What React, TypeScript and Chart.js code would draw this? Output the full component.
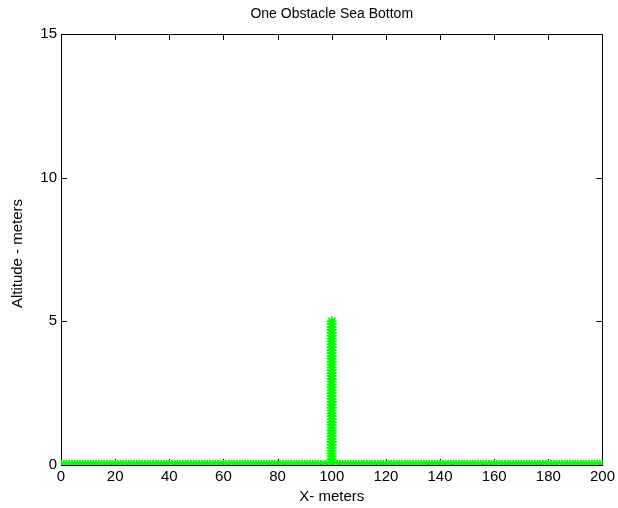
import React, { useEffect, useRef } from "react";
import { Chart, registerables } from "chart.js";
Chart.register(...registerables);

const titleText = "One Obstacle Sea Bottom";
const xLabel = "X- meters";
const yLabel = "Altitude - meters";
const xTicks = [0, 20, 40, 60, 80, 100, 120, 140, 160, 180, 200];
const yTicks = [0, 5, 10, 15];
// sea-bottom samples along x (altitude 0)
const groundX = [0,1,2,3,4,5,6,7,8,9,10,11,12,13,14,15,16,17,18,19,20,21,22,23,24,25,26,27,28,29,30,31,32,33,34,35,36,37,38,39,40,41,42,43,44,45,46,47,48,49,50,51,52,53,54,55,56,57,58,59,60,61,62,63,64,65,66,67,68,69,70,71,72,73,74,75,76,77,78,79,80,81,82,83,84,85,86,87,88,89,90,91,92,93,94,95,96,97,98,99,100,101,102,103,104,105,106,107,108,109,110,111,112,113,114,115,116,117,118,119,120,121,122,123,124,125,126,127,128,129,130,131,132,133,134,135,136,137,138,139,140,141,142,143,144,145,146,147,148,149,150,151,152,153,154,155,156,157,158,159,160,161,162,163,164,165,166,167,168,169,170,171,172,173,174,175,176,177,178,179,180,181,182,183,184,185,186,187,188,189,190,191,192,193,194,195,196,197,198,199,200];
// obstacle samples at x = 100
const obstacleX = 100;
const obstacleY = [0,0.1,0.2,0.3,0.4,0.5,0.6,0.7,0.8,0.9,1,1.1,1.2,1.3,1.4,1.5,1.6,1.7,1.8,1.9,2,2.1,2.2,2.3,2.4,2.5,2.6,2.7,2.8,2.9,3,3.1,3.2,3.3,3.4,3.5,3.6,3.7,3.8,3.9,4,4.1,4.2,4.3,4.4,4.5,4.6,4.7,4.8,4.9,5];

const FONT = "Arial, 'Liberation Sans', sans-serif";
const FS = 15;

export default function App() {
  const ref = useRef<HTMLCanvasElement>(null);
  useEffect(() => {
    document.body.style.margin = "0";
    const pts = [
      ...groundX.map((x) => ({ x, y: 0 })),
      ...obstacleY.map((y) => ({ x: obstacleX, y })),
    ];
    const frame = {
      id: "frame",
      beforeDatasetsDraw(c: any) {
        const { ctx, chartArea: a, scales } = c;
        ctx.save();
        ctx.strokeStyle = "#000";
        ctx.lineWidth = 1;
        ctx.beginPath();
        ctx.rect(Math.round(a.left) + 0.5, Math.round(a.top) + 0.5, Math.round(a.right - a.left), Math.round(a.bottom - a.top));
        ctx.stroke();
        const tl = 6;
        ctx.beginPath();
        for (const v of xTicks) {
          const px = Math.round(scales.x.getPixelForValue(v)) + 0.5;
          ctx.moveTo(px, a.bottom); ctx.lineTo(px, a.bottom - tl);
          ctx.moveTo(px, a.top); ctx.lineTo(px, a.top + tl);
        }
        for (const v of yTicks) {
          const py = Math.round(scales.y.getPixelForValue(v)) + 0.5;
          ctx.moveTo(a.left, py); ctx.lineTo(a.left + tl, py);
          ctx.moveTo(a.right, py); ctx.lineTo(a.right - tl, py);
        }
        ctx.stroke();
        ctx.restore();
      },
      afterDraw(c: any) {
        const { ctx, chartArea: a } = c;
        ctx.save();
        ctx.fillStyle = "#000";
        ctx.textAlign = "center";
        ctx.textBaseline = "middle";
        const cx = (a.left + a.right) / 2;
        ctx.font = `14px ${FONT}`;
        ctx.fillText(titleText, cx, 14);
        ctx.font = `${FS}px ${FONT}`;
        ctx.fillText(xLabel, cx, 497);
        ctx.translate(18, (a.top + a.bottom) / 2 + 4);
        ctx.rotate(-Math.PI / 2);
        ctx.fillText(yLabel, 0, 0);
        ctx.restore();
      },
    };
    const chart = new Chart(ref.current!, {
      type: "scatter",
      data: {
        datasets: [
          {
            data: pts,
            showLine: false,
            pointStyle: "star",
            pointRadius: 5,
            borderColor: "#00ff00",
            backgroundColor: "#00ff00",
            borderWidth: 1.8,
          },
        ],
      },
      options: {
        animation: false,
        responsive: false,
        devicePixelRatio: 1,
        layout: { padding: { left: 0, top: 34, right: 13, bottom: 0 } },
        plugins: { legend: { display: false }, tooltip: { enabled: false }, title: { display: false } },
        scales: {
          x: {
            type: "linear",
            min: 0,
            max: 200,
            afterFit: (s: any) => { s.height = 43; },
            afterBuildTicks: (s: any) => { s.ticks = xTicks.map((v) => ({ value: v })); },
            grid: { display: false, drawTicks: false },
            border: { display: false },
            ticks: { color: "#000", font: { size: FS, family: FONT }, padding: 3, maxRotation: 0, autoSkip: false },
          },
          y: {
            type: "linear",
            min: 0,
            max: 15,
            afterFit: (s: any) => { s.width = 61; },
            afterBuildTicks: (s: any) => { s.ticks = yTicks.map((v) => ({ value: v })); },
            grid: { display: false, drawTicks: false },
            border: { display: false },
            ticks: { color: "#000", font: { size: FS, family: FONT }, padding: 4, autoSkip: false },
          },
        },
      },
      plugins: [frame],
    });
    return () => chart.destroy();
  }, []);
  return (
    <div style={{ position: "absolute", left: 0, top: 0, width: 618, height: 508, background: "#fff" }}>
      <canvas ref={ref} width={618} height={508} />
    </div>
  );
}
